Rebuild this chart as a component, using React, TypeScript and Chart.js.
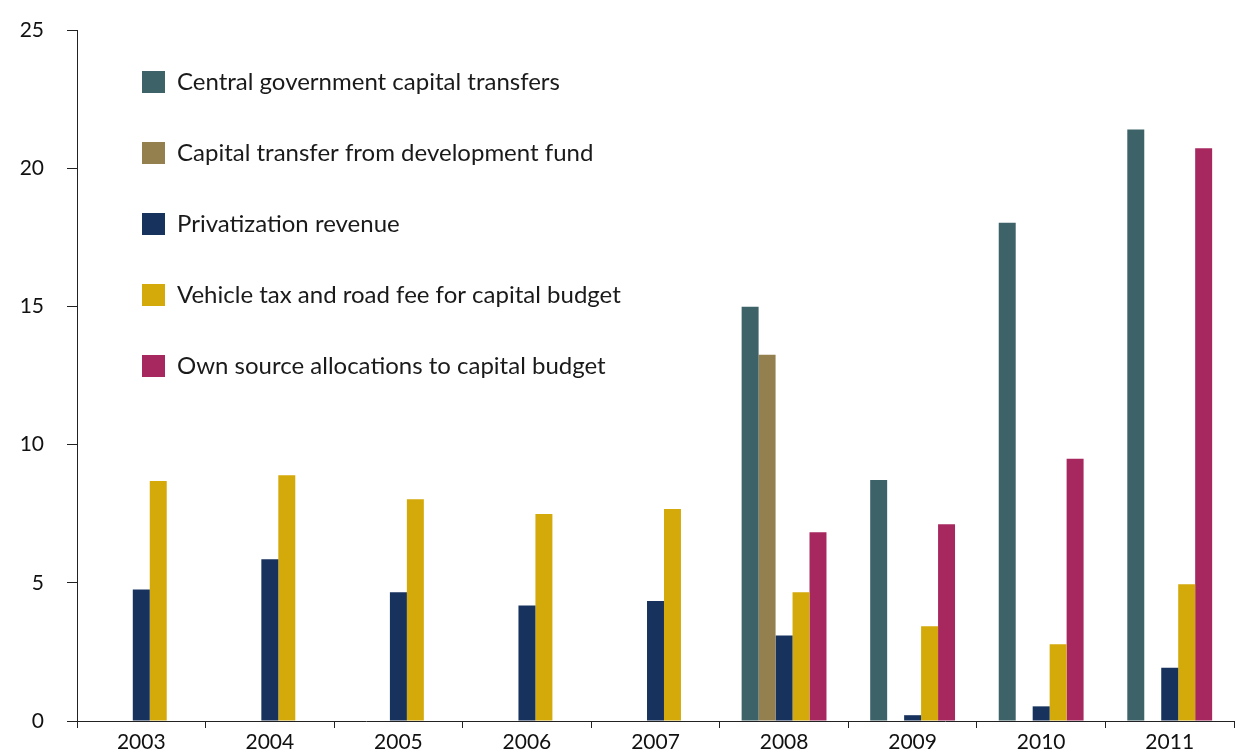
import React, { useEffect, useRef } from 'react';
import { Chart, registerables } from 'chart.js';

Chart.register(...registerables);

const years = ['2003', '2004', '2005', '2006', '2007', '2008', '2009', '2010', '2011'];
const centralGov = [null, null, null, null, null, 14.99, 8.72, 18.03, 21.4];
const devFund = [null, null, null, null, null, 13.25, null, null, null];
const privatization = [4.76, 5.85, 4.66, 4.18, 4.34, 3.09, 0.21, 0.53, 1.93];
const vehicleTax = [8.68, 8.89, 8.02, 7.49, 7.67, 4.66, 3.43, 2.78, 4.95];
const ownSource = [null, null, null, null, null, 6.83, 7.12, 9.49, 20.72];

const seriesLabels = [
  'Central government capital transfers',
  'Capital transfer from development fund',
  'Privatization revenue',
  'Vehicle tax and road fee for capital budget',
  'Own source allocations to capital budget',
];
const seriesColors = ['#3D6369', '#947F4E', '#18325E', '#D4A90A', '#A6285F'];

const FONT = 'Lato, "Open Sans", sans-serif';
const LEGEND_PAD = 47;

const legendShift = {
  id: 'legendShift',
  afterLayout(chart: any) {
    const lg = chart.legend;
    if (!lg) return;
    const w = lg.width;
    const h = lg.height;
    lg.left = 142 - LEGEND_PAD;
    lg.right = lg.left + w;
    lg.top = 70 - LEGEND_PAD;
    lg.bottom = lg.top + h;
  },
};

export default function App() {
  const ref = useRef<HTMLCanvasElement | null>(null);

  useEffect(() => {
    let chart: Chart | null = null;
    let cancelled = false;
    const make = () => {
      if (cancelled || !ref.current) return;
      const allSeries = [centralGov, devFund, privatization, vehicleTax, ownSource];
      chart = new Chart(ref.current, {
        type: 'bar',
        data: {
          labels: years,
          datasets: allSeries.map((d, i) => ({
            label: seriesLabels[i],
            data: d,
            backgroundColor: seriesColors[i],
            borderWidth: 0,
            categoryPercentage: 0.66,
            barPercentage: 1,
          })),
        },
        options: {
          responsive: false,
          animation: false,
          layout: { padding: { left: 0, right: 20, top: 30, bottom: 0 } },
          plugins: {
            legend: {
              position: 'chartArea' as any,
              align: 'start',
              labels: {
                boxWidth: 23,
                boxHeight: 22,
                padding: LEGEND_PAD,
                color: '#1a1a1a',
                font: { family: FONT, size: 24 },
              },
            },
            tooltip: { enabled: false },
          },
          scales: {
            x: {
              offset: true,
              grid: {
                offset: true,
                drawOnChartArea: false,
                drawTicks: true,
                tickLength: 7,
                color: '#222',
              },
              border: { display: true, color: '#222', width: 1 },
              ticks: { color: '#111', font: { family: FONT, size: 21 }, padding: 2, maxRotation: 0 },
              afterFit: (s: any) => {
                s.height = 30;
                s.paddingLeft = 0;
                s.paddingRight = 0;
              },
            },
            y: {
              min: 0,
              max: 25,
              grid: {
                drawOnChartArea: false,
                drawTicks: true,
                tickLength: 10,
                color: '#222',
              },
              border: { display: true, color: '#222', width: 1 },
              ticks: { stepSize: 5, color: '#111', font: { family: FONT, size: 21 }, padding: 23 },
              afterFit: (s: any) => {
                s.width = 77;
                s.paddingTop = 0;
                s.paddingBottom = 0;
              },
            },
          },
        },
        plugins: [legendShift],
      });
    };
    const fonts: any = (document as any).fonts;
    if (fonts && fonts.load) {
      Promise.all([fonts.load('24px Lato'), fonts.load('21px Lato')]).then(make, make);
    } else {
      make();
    }
    return () => {
      cancelled = true;
      if (chart) chart.destroy();
    };
  }, []);

  return (
    <div style={{ position: 'absolute', left: 0, top: 0, width: 1254, height: 751, background: '#fff' }}>
      <canvas ref={ref} width={1254} height={751} style={{ display: 'block' }} />
    </div>
  );
}
